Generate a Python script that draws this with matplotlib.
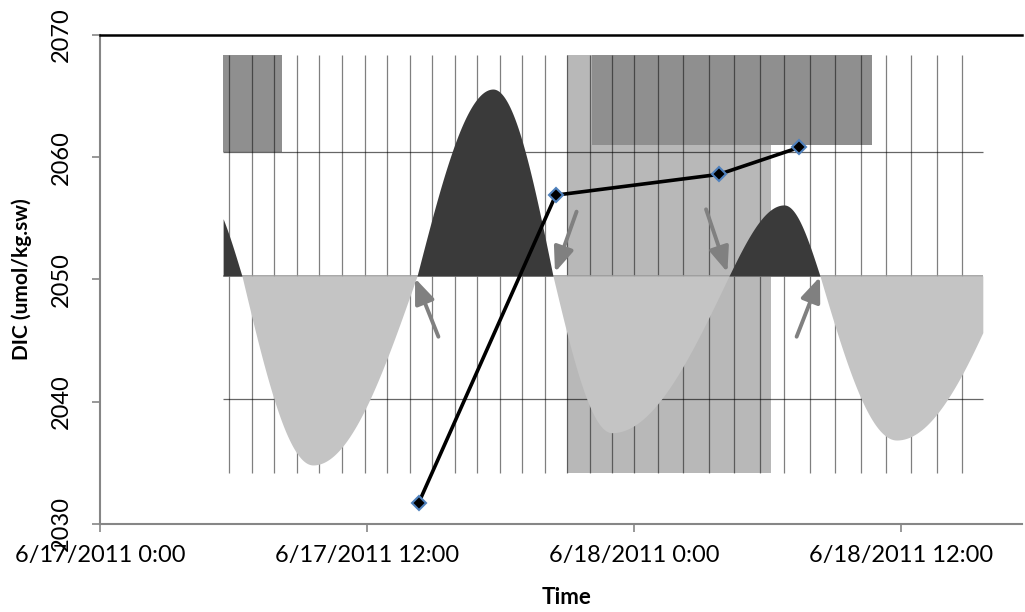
import numpy as np
import matplotlib
matplotlib.use("Agg")
import matplotlib.pyplot as plt
import matplotlib.dates as mdates
from datetime import datetime

plt.rcParams['font.family'] = ['Lato', 'DejaVu Sans']

# ---------------- data ----------------
times = ["2011-06-17 14:19", "2011-06-17 20:29", "2011-06-18 03:49", "2011-06-18 07:25"]
dic = [2031.7, 2056.9, 2058.6, 2060.8]

x_tick_hours = [0, 12, 24, 36]
x_tick_labels = ["6/17/2011 0:00", "6/17/2011 12:00", "6/18/2011 0:00", "6/18/2011 12:00"]
y_ticks = [2030, 2040, 2050, 2060, 2070]
y_tick_labels = ["2030", "2040", "2050", "2060", "2070"]

# background illustration (hours since 6/17/2011 0:00, DIC units)
img_x = [5.53, 39.69]
img_y = [2034.17, 2068.36]
tide_base = 2050.29
tide_start = [2.5, 6.38, 14.25, 20.36, 28.27, 32.36]
tide_peak_t = [4.5, 9.57, 17.66, 23.0, 30.74, 35.8]
tide_end = [6.38, 14.25, 20.36, 28.27, 32.36, 40.8]
tide_peak_v = [2057.5, 2034.83, 2065.58, 2037.47, 2056.1, 2036.87]
grid_v_hours = [5.80, 6.82, 7.83, 8.84, 9.86, 10.88, 11.90, 12.91, 13.92, 14.93,
                15.94, 16.96, 17.96, 18.97, 19.99, 21.00, 22.01, 23.02, 23.98, 25.08,
                26.22, 27.36, 28.51, 29.65, 30.76, 31.91, 33.05, 34.19, 35.33, 36.46,
                37.60, 38.74]
grid_h_values = [2060.43, 2040.22]
rect_x0 = [20.99, 5.53, 22.10]
rect_x1 = [30.16, 8.17, 34.68]
rect_y0 = [2034.17, 2060.43, 2061.0]
rect_y1 = [2068.36, 2068.36, 2068.36]
rect_colors = ['#b8b8b8', '#8f8f8f', '#8f8f8f']
arrow_tail_h = [15.21, 21.42, 27.24, 31.31]
arrow_tail_v = [2045.32, 2055.55, 2055.74, 2045.32]
arrow_tip_h = [14.16, 20.45, 28.20, 32.36]
arrow_tip_v = [2050.10, 2050.59, 2050.59, 2050.22]

# ---------------- figure ----------------
base = mdates.date2num(datetime(2011, 6, 17))
def hx(h):
    return base + np.asarray(h, dtype=float) / 24.0

fig = plt.figure(figsize=(10.25, 6.12), dpi=100)
W, H = 1025, 612
ax = fig.add_axes([100 / W, (H - 524) / H, (1022 - 100) / W, (524 - 35) / H])

# rectangles
for x0, x1, y0, y1, c in zip(rect_x0, rect_x1, rect_y0, rect_y1, rect_colors):
    ax.fill_between([hx(x0), hx(x1)], y0, y1, color=c, lw=0, zorder=1)

# grid-like lines of the illustration
ax.vlines(hx(grid_v_hours), img_y[0], img_y[1], color='black', alpha=0.5, lw=0.9, zorder=2)
ax.hlines(grid_h_values, hx(img_x[0]), hx(img_x[1]), color='black', alpha=0.6, lw=0.9, zorder=2)
ax.hlines([tide_base], hx(img_x[0]), hx(img_x[1]), color='#9a9a9a', lw=1.2, zorder=2)

# tide curve
for s, p, e, v in zip(tide_start, tide_peak_t, tide_end, tide_peak_v):
    t = np.linspace(s, e, 400)
    amp = v - tide_base
    y = np.where(t <= p,
                 tide_base + amp * np.sin((t - s) / (p - s) * np.pi / 2),
                 tide_base + amp * np.cos((t - p) / (e - p) * np.pi / 2))
    m = (t >= img_x[0]) & (t <= img_x[1])
    col = '#3a3a3a' if amp > 0 else '#c4c4c4'
    ax.fill_between(hx(t[m]), tide_base, y[m], color=col, lw=0, zorder=3)

# arrows
for th, tv, ph, pv in zip(arrow_tail_h, arrow_tail_v, arrow_tip_h, arrow_tip_v):
    ax.annotate('', xy=(hx(ph), pv), xytext=(hx(th), tv),
                arrowprops=dict(arrowstyle='-|>,head_length=0.75,head_width=0.3',
                                mutation_scale=20, lw=2.8, color='#808080',
                                shrinkA=0, shrinkB=0), zorder=4)

# data line
tx = mdates.date2num([datetime.strptime(s, "%Y-%m-%d %H:%M") for s in times])
ax.plot(tx, dic, color='black', lw=2.6, marker='D', markersize=7,
        markerfacecolor='black', markeredgecolor='#4f81bd', markeredgewidth=1.5, zorder=5)

# axes
ax.set_xlim(hx(0), hx(41.44))
ax.set_ylim(2030, 2070)
ax.set_xticks(hx(x_tick_hours))
ax.set_xticklabels(x_tick_labels)
ax.set_yticks(y_ticks)
ax.set_yticklabels(y_tick_labels, rotation=90, va='center')
ax.tick_params(axis='both', labelsize=17, colors='#868686', labelcolor='black',
               length=6, width=1.2, direction='out')
ax.tick_params(axis='x', pad=9)
ax.tick_params(axis='y', pad=14)
for sp in ['left', 'bottom']:
    ax.spines[sp].set_color('#868686')
    ax.spines[sp].set_linewidth(1.5)
ax.spines['right'].set_visible(False)
ax.spines['top'].set_color('black')
ax.spines['top'].set_linewidth(1.8)

fig.text(22 / W, 1 - 279 / H, "DIC (umol/kg.sw)", rotation=90, ha='center', va='center',
         fontsize=15, fontweight='bold')
fig.text(567 / W, 1 - 598 / H, "Time", ha='center', va='center', fontsize=16, fontweight='bold')

fig.savefig("out.png", dpi=100)
